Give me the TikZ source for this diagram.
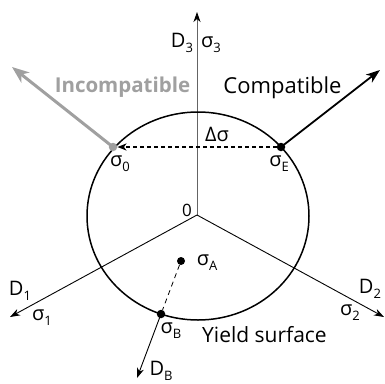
\documentclass[tikz,border=0pt]{standalone}
\usepackage{fontspec}
\setmainfont{Open Sans}
\usetikzlibrary{arrows.meta}
\definecolor{incgray}{RGB}{160,160,160}
\definecolor{axgray}{RGB}{100,100,100}
\newcommand{\lowsub}[1]{\raisebox{-0.5ex}{\fontsize{13}{13}\selectfont #1}}
\begin{document}
\begin{tikzpicture}[x=1pt,y=-1pt,
  lbl/.style={font=\fontsize{20}{20}\selectfont, inner sep=0pt, anchor=base},
  big/.style={font=\fontsize{22}{22}\selectfont, inner sep=0pt, anchor=base},
  axis/.style={line width=0.9pt, -{Stealth[length=10pt,width=7pt,inset=3pt]}},
  pt/.style={circle, fill, inner sep=0pt, minimum size=8.5pt},
]
\useasboundingbox (0,0) rectangle (385,383);
% coordinates
\coordinate (O) at (197,215);
\coordinate (T3) at (197,12);
\coordinate (T1) at (10,317);
\coordinate (T2) at (384,317);
\coordinate (TB) at (137,378);
\coordinate (TI) at (12,67);
\coordinate (TC) at (380,70);
\coordinate (C) at (198,216);
% axes
\draw[line width=0.9pt, axgray, -{Stealth[length=10pt,width=7pt,inset=3pt,color=black]}] (O) -- (T3);
\draw[axis] (O) -- (T1);
\draw[axis] (O) -- (T2);
% yield surface
\draw[line width=1.5pt] (C) ellipse [x radius=111, y radius=104];
% points
\node[pt, incgray] (s0) at (113,147) {};
\node[pt] (sE) at (281,147) {};
\node[pt, minimum size=8pt] (sA) at (181,261) {};
\node[pt] (sB) at (161,314) {};
% arrows
\draw[line width=3pt, incgray, -{Stealth[length=17pt,width=13pt,inset=5pt]}] (s0.center) -- (TI);
\draw[line width=1.8pt, -{Stealth[length=14pt,width=10pt,inset=4pt]}] (sE.center) -- (TC);
\draw[line width=1.3pt, dash pattern=on 4pt off 3pt, -{Stealth[length=9pt,width=7pt,inset=2.5pt]}] (sE) -- (s0);
\draw[line width=0.8pt, dash pattern=on 5pt off 4pt] (sA) -- (sB);
\draw[axis] (sB.center) -- (TB);
% labels
\node[lbl] (lD3) at (182,47) {D\lowsub{3}};
\node[lbl] (ls3) at (211,47) {σ\lowsub{3}};
\node[big, incgray, font=\fontsize{20.5}{20.5}\selectfont\bfseries] (lInc) at (122.5,92) {Incompatible};
\node[big] (lComp) at (282.5,93) {Compatible};
\node[lbl] (lDs) at (217,141) {Δσ};
\node[lbl] (ls0) at (120,166) {σ\lowsub{0}};
\node[lbl] (lsE) at (279,166) {σ\lowsub{E}};
\node[lbl, font=\fontsize{17}{17}\selectfont] (l0) at (187,216) {0};
\node[lbl] (lsA) at (207,265) {σ\lowsub{A}};
\node[lbl] (lsB) at (171,333) {σ\lowsub{B}};
\node[big, font=\fontsize{21}{21}\selectfont] (lY) at (264.5,342) {Yield surface};
\node[lbl] (lDB) at (161,375) {D\lowsub{B}};
\node[lbl] (lD1) at (20,295) {D\lowsub{1}};
\node[lbl] (ls1) at (42,320) {σ\lowsub{1}};
\node[lbl] (lD2) at (370,293) {D\lowsub{2}};
\node[lbl] (ls2) at (350,315) {σ\lowsub{2}};
\end{tikzpicture}
\end{document}
